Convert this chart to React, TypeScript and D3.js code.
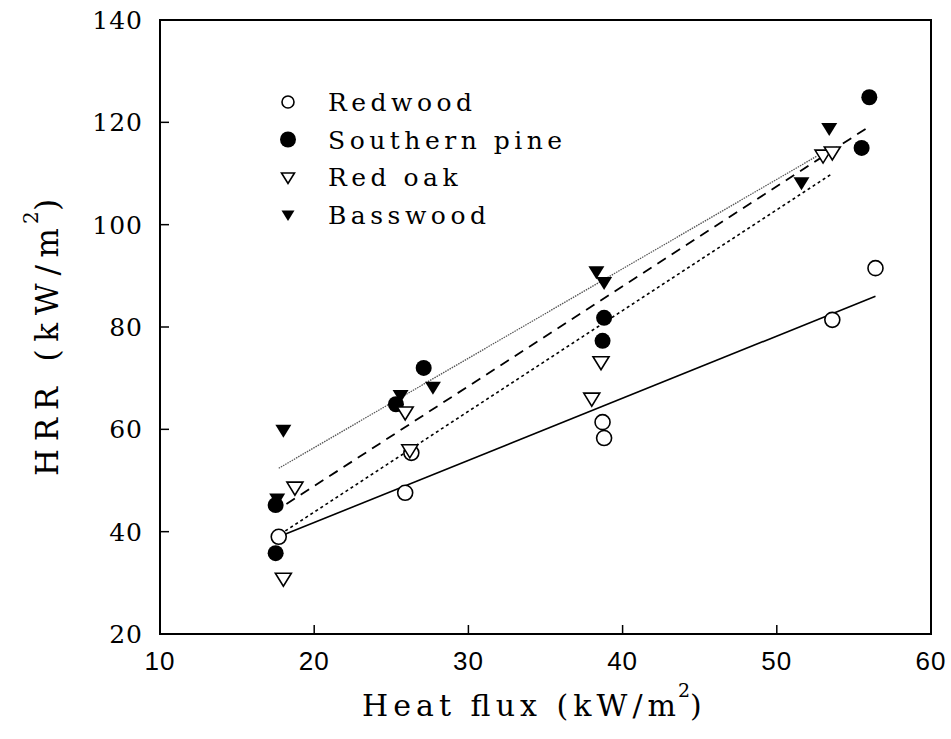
import * as d3 from 'd3';
import React from 'react';

// heat flux (kW/m2) vs HRR (kW/m2)
const redwood = [[17.7, 39], [25.9, 47.6], [26.3, 55.4], [38.7, 61.4], [38.8, 58.3], [53.6, 81.4], [56.4, 91.5]];
const southernPine = [[17.5, 35.8], [17.5, 45.2], [25.3, 64.9], [27.1, 72.0], [38.7, 77.3], [38.8, 81.8], [55.5, 115.0], [56.0, 124.9]];
const redOak = [[18.0, 30.9], [18.75, 48.7], [26.2, 56.0], [25.9, 63.4], [38.0, 66.1], [38.6, 73.2], [53.0, 113.6], [53.6, 114.2]];
const basswood = [[18.0, 59.9], [17.6, 46.5], [25.6, 66.7], [27.7, 68.3], [38.3, 90.9], [38.8, 88.8], [51.6, 108.3], [53.4, 118.9]];

// fitted lines (start / end)
const redwoodFit = [[17.7, 39], [56.4, 86]];
const pineFit = [[18.2, 45.4], [55.9, 119]];
const oakFit = [[17.8, 39.5], [53.5, 109.8]];
const bassFit = [[17.7, 52.4], [52.6, 113.4]];

const xTicks = [10, 20, 30, 40, 50, 60];
const yTicks = [20, 40, 60, 80, 100, 120, 140];
const legendNames = ['Redwood', 'Southern pine', 'Red oak', 'Basswood'];

const W = 951, H = 739;
const margin = { top: 20, right: 20, bottom: 105, left: 160 };
const serif = '"DejaVu Serif", "Liberation Serif", serif';
const sans = '"Liberation Sans", Arial, sans-serif';

export default function App() {
  const x = d3.scaleLinear().domain([10, 60]).range([margin.left, W - margin.right]);
  const y = d3.scaleLinear().domain([20, 140]).range([H - margin.bottom, margin.top]);
  const line = d3.line<number[]>().x(d => x(d[0])).y(d => y(d[1]));

  const tri = 'M-8,-5L8,-5L0,8Z';
  const triSmall = 'M-6.5,-4L6.5,-4L0,6.5Z';

  const marker = (kind: number, px: number, py: number, key: any, small = false) => {
    if (kind === 0) return <circle key={key} cx={px} cy={py} r={small ? 6 : 7.5} fill="#fff" stroke="#000" strokeWidth={1.6} />;
    if (kind === 1) return <circle key={key} cx={px} cy={py} r={8} fill="#000" />;
    if (kind === 2) return <path key={key} d={small ? triSmall : tri} transform={`translate(${px},${py})`} fill="#fff" stroke="#000" strokeWidth={1.6} />;
    return <path key={key} d={small ? triSmall : tri} transform={`translate(${px},${py})`} fill="#000" />;
  };

  const series = [redwood, southernPine, redOak, basswood];

  // axis titles: main part stretched to the width seen in the figure
  const xT = { x: 362, y: 716, len: 314 };
  const yT = { x: -476, y: 58, len: 248 };

  return (
    <svg width={W} height={H} style={{ position: 'absolute', left: 0, top: 0, background: '#fff' }}>
      {/* frame */}
      <rect x={x(10)} y={y(140)} width={x(60) - x(10)} height={y(20) - y(140)} fill="none" stroke="#000" strokeWidth={2} />

      {/* ticks */}
      {yTicks.slice(1, -1).map(t => (
        <line key={'yt' + t} x1={x(10)} x2={x(10) + 9} y1={y(t)} y2={y(t)} stroke="#000" strokeWidth={1.5} />
      ))}
      {xTicks.slice(1, -1).map(t => (
        <line key={'xt' + t} x1={x(t)} x2={x(t)} y1={y(20)} y2={y(20) - 9} stroke="#000" strokeWidth={1.5} />
      ))}

      {/* tick labels */}
      {yTicks.map(t => (
        <text key={'yl' + t} x={143} y={y(t) + 9} textAnchor="end" fontFamily={serif} fontSize={25} letterSpacing={1}>{t}</text>
      ))}
      {xTicks.map(t => (
        <text key={'xl' + t} x={x(t)} y={y(20) + 36} textAnchor="middle" fontFamily={sans} fontSize={26} letterSpacing={1}>{t}</text>
      ))}

      {/* axis titles */}
      <text x={xT.x} y={xT.y} fontFamily={serif} fontSize={30} textLength={xT.len} lengthAdjust="spacing">Heat flux (kW/m</text>
      <text x={xT.x + xT.len + 2} y={xT.y - 19} fontFamily={serif} fontSize={19}>2</text>
      <text x={xT.x + xT.len + 14} y={xT.y} fontFamily={serif} fontSize={30}>)</text>

      <g transform="rotate(-90)">
        <text x={yT.x} y={yT.y} fontFamily={serif} fontSize={31} textLength={yT.len} lengthAdjust="spacing">HRR (kW/m</text>
        <text x={yT.x + yT.len + 4} y={yT.y - 20} fontFamily={serif} fontSize={20}>2</text>
        <text x={yT.x + yT.len + 17} y={yT.y} fontFamily={serif} fontSize={31}>)</text>
      </g>

      {/* fit lines */}
      <path d={line(redwoodFit) ?? ''} fill="none" stroke="#000" strokeWidth={1.6} />
      <path d={line(pineFit) ?? ''} fill="none" stroke="#000" strokeWidth={1.8} strokeDasharray="10,7" />
      <path d={line(oakFit) ?? ''} fill="none" stroke="#000" strokeWidth={1.6} strokeDasharray="3,3" />
      <path d={line(bassFit) ?? ''} fill="none" stroke="#555" strokeWidth={1.3} strokeDasharray="1.5,1" />

      {/* points */}
      {series.map((s, k) => s.map((d, i) => marker(k, x(d[0]), y(d[1]), `${k}-${i}`)))}

      {/* legend */}
      {legendNames.map((n, i) => (
        <g key={n} transform={`translate(288,${102 + i * 37.5})`}>
          {marker(i, 0, 0, 'm', true)}
          <text x={40} y={9} fontFamily={serif} fontSize={25} letterSpacing={4.5}>{n}</text>
        </g>
      ))}
    </svg>
  );
}
